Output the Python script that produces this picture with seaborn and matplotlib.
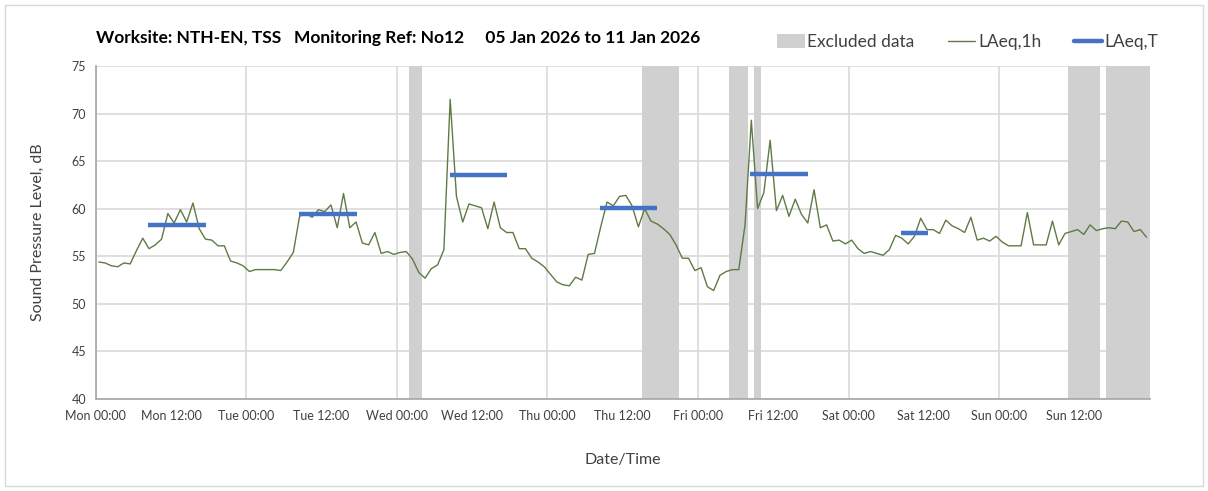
import numpy as np
import pandas as pd
import seaborn as sns
import matplotlib
matplotlib.use("Agg")
import matplotlib.pyplot as plt
from matplotlib.patches import Patch, Rectangle
from matplotlib.lines import Line2D
from matplotlib.ticker import FixedLocator, FuncFormatter

# Hourly LAeq,1h values (dB), one per hour from Mon 00:00, plotted at mid-hour
laeq_1h = [
    54.4, 54.3, 54.0, 53.9, 54.3, 54.2, 55.6, 56.9, 55.8, 56.2, 56.8, 59.5,
    58.5, 59.9, 58.6, 60.6, 57.9, 56.8, 56.7, 56.1, 56.1, 54.5, 54.3, 54.0,
    53.4, 53.6, 53.6, 53.6, 53.6, 53.5, 54.4, 55.4, 59.2, 59.5, 59.1, 59.9,
    59.7, 60.4, 58.0, 61.6, 58.0, 58.6, 56.4, 56.2, 57.5, 55.3, 55.5, 55.2,
    55.4, 55.5, 54.7, 53.3, 52.7, 53.7, 54.1, 55.7, 71.5, 61.3, 58.6, 60.5,
    60.3, 60.1, 57.9, 60.7, 58.0, 57.5, 57.5, 55.8, 55.8, 54.8, 54.4, 53.9,
    53.1, 52.3, 52.0, 51.9, 52.8, 52.5, 55.2, 55.3, 58.1, 60.7, 60.3, 61.3,
    61.4, 60.3, 58.1, 60.0, 58.7, 58.4, 57.9, 57.3, 56.2, 54.8, 54.8, 53.5,
    53.8, 51.8, 51.4, 53.0, 53.4, 53.6, 53.6, 58.3, 69.3, 60.0, 61.7, 67.2,
    59.8, 61.4, 59.2, 61.0, 59.4, 58.5, 62.0, 58.0, 58.3, 56.6, 56.7, 56.3,
    56.7, 55.8, 55.3, 55.5, 55.3, 55.1, 55.7, 57.2, 56.9, 56.3, 57.1, 59.0,
    57.8, 57.8, 57.4, 58.8, 58.2, 57.9, 57.5, 59.1, 56.7, 56.9, 56.6, 57.1,
    56.5, 56.1, 56.1, 56.1, 59.6, 56.2, 56.2, 56.2, 58.7, 56.2, 57.4, 57.6,
    57.8, 57.3, 58.3, 57.7, 57.9, 58.0, 57.9, 58.7, 58.6, 57.6, 57.8, 57.0,
]
hours = np.arange(len(laeq_1h)) + 0.5

# Period LAeq,T levels (dB) with start/end (hours from Mon 00:00)
laeq_t = [58.3, 59.4, 63.5, 60.1, 63.6, 57.5]
laeq_t_start = [8.4, 32.4, 56.4, 80.4, 104.3, 128.4]
laeq_t_end = [17.6, 41.6, 65.5, 89.5, 113.5, 132.6]

# Excluded data periods (hours from Mon 00:00)
excl_start = [50, 87, 101, 105, 155, 161]
excl_end = [52, 93, 104, 106, 160, 168]

day_names = ["Mon", "Tue", "Wed", "Thu", "Fri", "Sat", "Sun"]

title = ("Worksite: NTH-EN, TSS   Monitoring Ref: No12     "
         "05 Jan 2026 to 11 Jan 2026")

sns.set_style("white")
plt.rcParams["font.family"] = ["Lato", "DejaVu Sans"]

W, H = 1208, 491
fig = plt.figure(figsize=(W / 100, H / 100), dpi=100)
ax = fig.add_axes([95.7 / W, 1 - 399 / H, (1149.7 - 95.7) / W, (399 - 66) / H])

grid_c = "#d9d9d9"
band_c = "#d0d0d0"
green = "#5f7a45"
blue = "#4472c4"
text_c = "#404040"

for s, e in zip(excl_start, excl_end):
    ax.axvspan(s, e, color=band_c, lw=0, zorder=1)

df = pd.DataFrame({"hour": hours, "level": laeq_1h})
sns.lineplot(data=df, x="hour", y="level", ax=ax, color=green, lw=1.0,
             zorder=3, legend=False)

ax.hlines(laeq_t, laeq_t_start, laeq_t_end, colors=blue, lw=3.2, zorder=4)

ax.set_xlim(0, 168)
ax.set_ylim(40, 75)
ax.set_yticks(np.arange(40, 76, 5))

major = np.arange(0, 169, 24)
minor = np.arange(12, 168, 24)
ax.xaxis.set_major_locator(FixedLocator(major))
ax.xaxis.set_minor_locator(FixedLocator(minor))


def fmt(h, pos=None):
    d = int(round(h)) // 24
    if d >= len(day_names):
        return ""
    return f"{day_names[d]} {int(round(h)) % 24:02d}:00"


ax.xaxis.set_major_formatter(FuncFormatter(fmt))
ax.xaxis.set_minor_formatter(FuncFormatter(fmt))

ax.grid(True, which="major", axis="both", color=grid_c, lw=1.2, zorder=0)
ax.grid(False, which="minor")
ax.set_axisbelow(True)

for side in ["top", "right"]:
    ax.spines[side].set_visible(False)
for side in ["left", "bottom"]:
    ax.spines[side].set_color("#a6a6a6")
    ax.spines[side].set_linewidth(1.2)

ax.tick_params(axis="both", which="both", direction="out", length=4,
               width=1, color="#a6a6a6", labelsize=9, labelcolor=text_c,
               pad=3)
ax.tick_params(axis="x", which="both", pad=4)

ax.set_xlabel("Date/Time", fontsize=11.5, color=text_c, labelpad=22)
ax.set_ylabel("Sound Pressure Level, dB", fontsize=11.5, color=text_c,
              labelpad=19)

fig.text(96 / W, 1 - 38 / H, title, fontsize=12.5, fontweight="bold",
         color="black", ha="left", va="center")

handles = [
    Patch(facecolor=band_c, edgecolor="none", label="Excluded data"),
    Line2D([], [], color=green, lw=1.0, label="LAeq,1h"),
    Line2D([], [], color=blue, lw=3.2, label="LAeq,T"),
]
fig.legend(handles=handles, loc="center right", ncol=3,
           bbox_to_anchor=(1174 / W, 1 - 42 / H), frameon=False,
           fontsize=12.5, handlelength=1.6, handleheight=0.8,
           handletextpad=0.15, columnspacing=1.9, labelcolor=text_c)

fig.patches.append(Rectangle((5 / W, 5 / H), 1198 / W, 481 / H,
                             transform=fig.transFigure, fill=False,
                             edgecolor="#d9d9d9", lw=1.0))

fig.savefig("out.png", dpi=100, facecolor="white")
